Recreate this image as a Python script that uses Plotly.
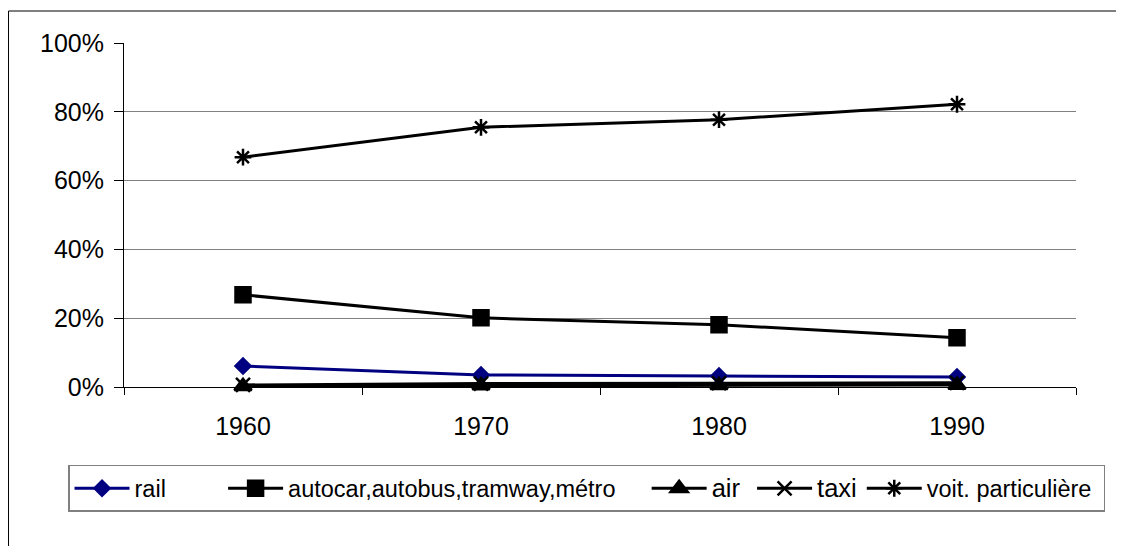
import plotly.graph_objects as go

years = ["1960", "1970", "1980", "1990"]
rail = [0.061, 0.035, 0.032, 0.029]
autocar = [0.268, 0.201, 0.181, 0.143]
air = [0.002, 0.004, 0.005, 0.006]
taxi = [0.006, 0.010, 0.011, 0.012]
voit = [0.668, 0.755, 0.777, 0.822]

NB = "\u00a0"
series = [
    ("rail" + NB * 8, rail, "#000080", "diamond", 11.5, 23.5),
    ("autocar,autobus,tramway,métro" + NB * 4, autocar, "black", "square", 15, 23.5),
    ("air" + NB * 1, air, "black", "triangle-up", 15, 25.5),
    ("taxi", taxi, "black", "x-thin-open", 14, 25.5),
    ("voit. particulière" + NB * 1, voit, "black", "asterisk-open", 14, 23.5),
]

fig = go.Figure()
for name, vals, col, sym, sz, fs in series:
    fig.add_trace(go.Scatter(
        x=years, y=vals, mode="lines+markers",
        name=f"<span style='font-size:{fs}px'>{name}</span>",
        line=dict(color=col, width=3),
        marker=dict(symbol=sym, size=sz, color=col,
                    line=dict(color=col, width=2.5)),
        cliponaxis=False,
    ))

font = "Arial, 'Liberation Sans', sans-serif"
fig.update_layout(
    width=1116, height=538,
    margin=dict(l=116, r=48, t=35, b=159, autoexpand=False),
    paper_bgcolor="white", plot_bgcolor="white",
    font=dict(family=font, color="black", size=25),
    showlegend=True,
    legend=dict(
        orientation="h", x=-0.0588, xanchor="left", y=-0.2267, yanchor="top",
        bgcolor="white", bordercolor="#808080", borderwidth=1.5,
        font=dict(family=font, size=23.5, color="black"),
        itemwidth=55, tracegroupgap=0,
    ),
    xaxis=dict(
        type="category", range=[-0.5, 3.5],
        showline=True, linecolor="black", linewidth=1,
        ticks="outside", ticklen=7, tickcolor="black", tickson="boundaries",
        ticklabelstandoff=17, showgrid=False, zeroline=False,
        tickfont=dict(size=25),
    ),
    yaxis=dict(
        range=[0, 1], tickvals=[0, 0.2, 0.4, 0.6, 0.8, 1.0], tickformat=".0%",
        showline=True, linecolor="black", linewidth=1,
        ticks="outside", ticklen=9, tickcolor="black",
        showgrid=True, gridcolor="#808080", gridwidth=1,
        zeroline=False, ticklabelstandoff=5,
        tickfont=dict(size=25),
    ),
    shapes=[
        dict(type="line", xref="paper", yref="paper",
             x0=-0.1213, x1=-0.1213, y0=-0.7, y1=1.093,
             line=dict(color="black", width=1), layer="below"),
        dict(type="line", xref="paper", yref="paper",
             x0=-0.1213, x1=1.2, y0=1.093, y1=1.093,
             line=dict(color="black", width=1), layer="below"),
    ],
)

fig.write_html("out.html")
